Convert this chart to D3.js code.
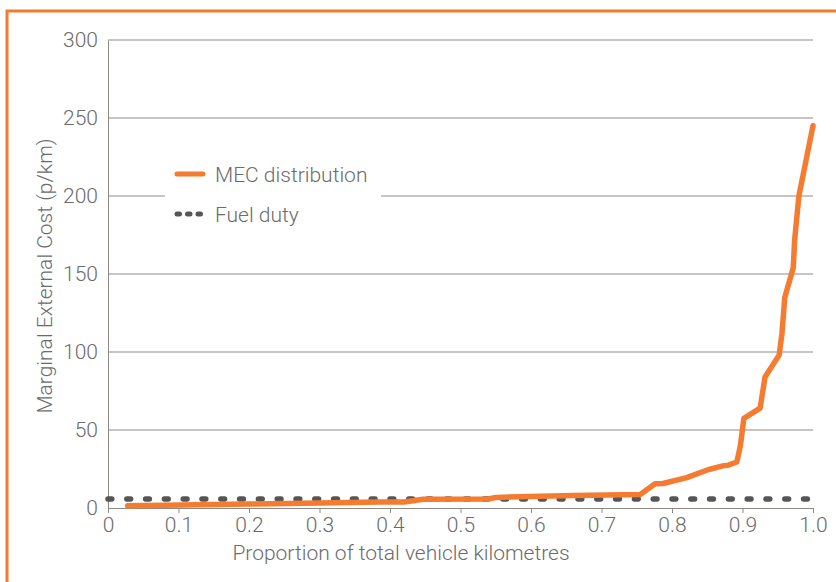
<!DOCTYPE html>
<html><head><meta charset="utf-8">
<script src="https://cdn.jsdelivr.net/npm/d3@7"></script>
<style>
html,body{margin:0;padding:0;background:#fff;}
svg{display:block;}
text{font-family:"Roboto","Liberation Sans",sans-serif;font-weight:300;fill:#6b6b6b;}
</style></head>
<body>
<script>
// Data
const mecX = [0.028, 0.08, 0.2, 0.3, 0.385, 0.42, 0.447, 0.54, 0.55, 0.66, 0.755, 0.776, 0.787, 0.821, 0.851, 0.872, 0.88, 0.892, 0.897, 0.902, 0.925, 0.932, 0.952, 0.956, 0.960, 0.972, 0.974, 0.980, 1.0];
const mecY = [1.5, 1.8, 2.5, 3.2, 3.8, 3.9, 5.6, 5.8, 6.8, 8.0, 8.7, 15.5, 15.7, 19.5, 24.5, 27, 27.5, 29.5, 40, 57.5, 64, 84, 98, 112, 135, 154, 172, 200, 245];
const fuelDuty = 5.7;
const xTicks = [0, 0.1, 0.2, 0.3, 0.4, 0.5, 0.6, 0.7, 0.8, 0.9, 1.0];
const xTickLabels = ["0", "0.1", "0.2", "0.3", "0.4", "0.5", "0.6", "0.7", "0.8", "0.9", "1.0"];
const yTicks = [0, 50, 100, 150, 200, 250, 300];
const legendLabels = ["MEC distribution", "Fuel duty"];

const W = 836, H = 582;
const FS = 21;
const svg = d3.select("body").append("svg").attr("width", W).attr("height", H);

// orange frame
svg.append("rect").attr("x", 7).attr("y", 11).attr("width", 900).attr("height", 700)
  .attr("fill", "none").attr("stroke", "#f47b30").attr("stroke-width", 3);

const x = d3.scaleLinear().domain([0, 1]).range([108, 813]);
const y = d3.scaleLinear().domain([0, 300]).range([508, 40]);
const gridCol = "#8f8983";

// gridlines
svg.append("g").selectAll("line").data(yTicks.filter(d => d > 0)).join("line")
  .attr("x1", x(0)).attr("x2", x(1)).attr("y1", d => y(d)).attr("y2", d => y(d))
  .attr("stroke", gridCol).attr("stroke-width", 1);

// y axis
const yAxis = svg.append("g").attr("transform", `translate(${x(0)},0)`)
  .call(d3.axisLeft(y).tickValues(yTicks).tickSize(0).tickPadding(10));
yAxis.select(".domain").attr("stroke", gridCol);
yAxis.selectAll("text").attr("font-size", FS).attr("fill", "#6b6b6b")
  .attr("font-family", "Roboto, 'Liberation Sans', sans-serif").attr("font-weight", 300);

// x axis
const xAxis = svg.append("g").attr("transform", `translate(0,${y(0)})`)
  .call(d3.axisBottom(x).tickValues(xTicks).tickFormat((d, i) => xTickLabels[i]).tickSize(5).tickSizeOuter(5).tickPadding(4));
xAxis.select(".domain").attr("stroke", gridCol);
xAxis.selectAll(".tick line").attr("stroke", gridCol);
xAxis.selectAll("text").attr("font-size", FS).attr("fill", "#6b6b6b")
  .attr("font-family", "Roboto, 'Liberation Sans', sans-serif").attr("font-weight", 300);

// axis titles
svg.append("text").attr("x", 401).attr("y", 560).attr("text-anchor", "middle")
  .attr("font-size", FS).text("Proportion of total vehicle kilometres");
svg.append("text").attr("transform", "translate(52,276) rotate(-90)").attr("text-anchor", "middle")
  .attr("font-size", FS).text("Marginal External Cost (p/km)");

// fuel duty dotted line
svg.append("line").attr("x1", x(0)).attr("x2", x(1)).attr("y1", y(fuelDuty)).attr("y2", y(fuelDuty))
  .attr("stroke", "#565656").attr("stroke-width", 5.5).attr("stroke-linecap", "round")
  .attr("stroke-dasharray", "3.8 15");

// MEC line
const pts = mecX.map((d, i) => [d, mecY[i]]);
svg.append("path").datum(pts)
  .attr("d", d3.line().x(d => x(d[0])).y(d => y(d[1])))
  .attr("fill", "none").attr("stroke", "#f47b30").attr("stroke-width", 5.5)
  .attr("stroke-linejoin", "round").attr("stroke-linecap", "round");

// legend
const lg = svg.append("g");
lg.append("rect").attr("x", 165).attr("y", 150).attr("width", 216).attr("height", 85).attr("fill", "#fff");
lg.append("line").attr("x1", 177).attr("x2", 203).attr("y1", 174).attr("y2", 174)
  .attr("stroke", "#f47b30").attr("stroke-width", 5).attr("stroke-linecap", "round");
lg.append("line").attr("x1", 177).attr("x2", 204).attr("y1", 214).attr("y2", 214)
  .attr("stroke", "#565656").attr("stroke-width", 5).attr("stroke-linecap", "round")
  .attr("stroke-dasharray", "2.5 8");
lg.append("text").attr("x", 215).attr("y", 181.5).attr("font-size", FS).text(legendLabels[0]);
lg.append("text").attr("x", 215).attr("y", 221.5).attr("font-size", FS).text(legendLabels[1]);
</script>
</body></html>
